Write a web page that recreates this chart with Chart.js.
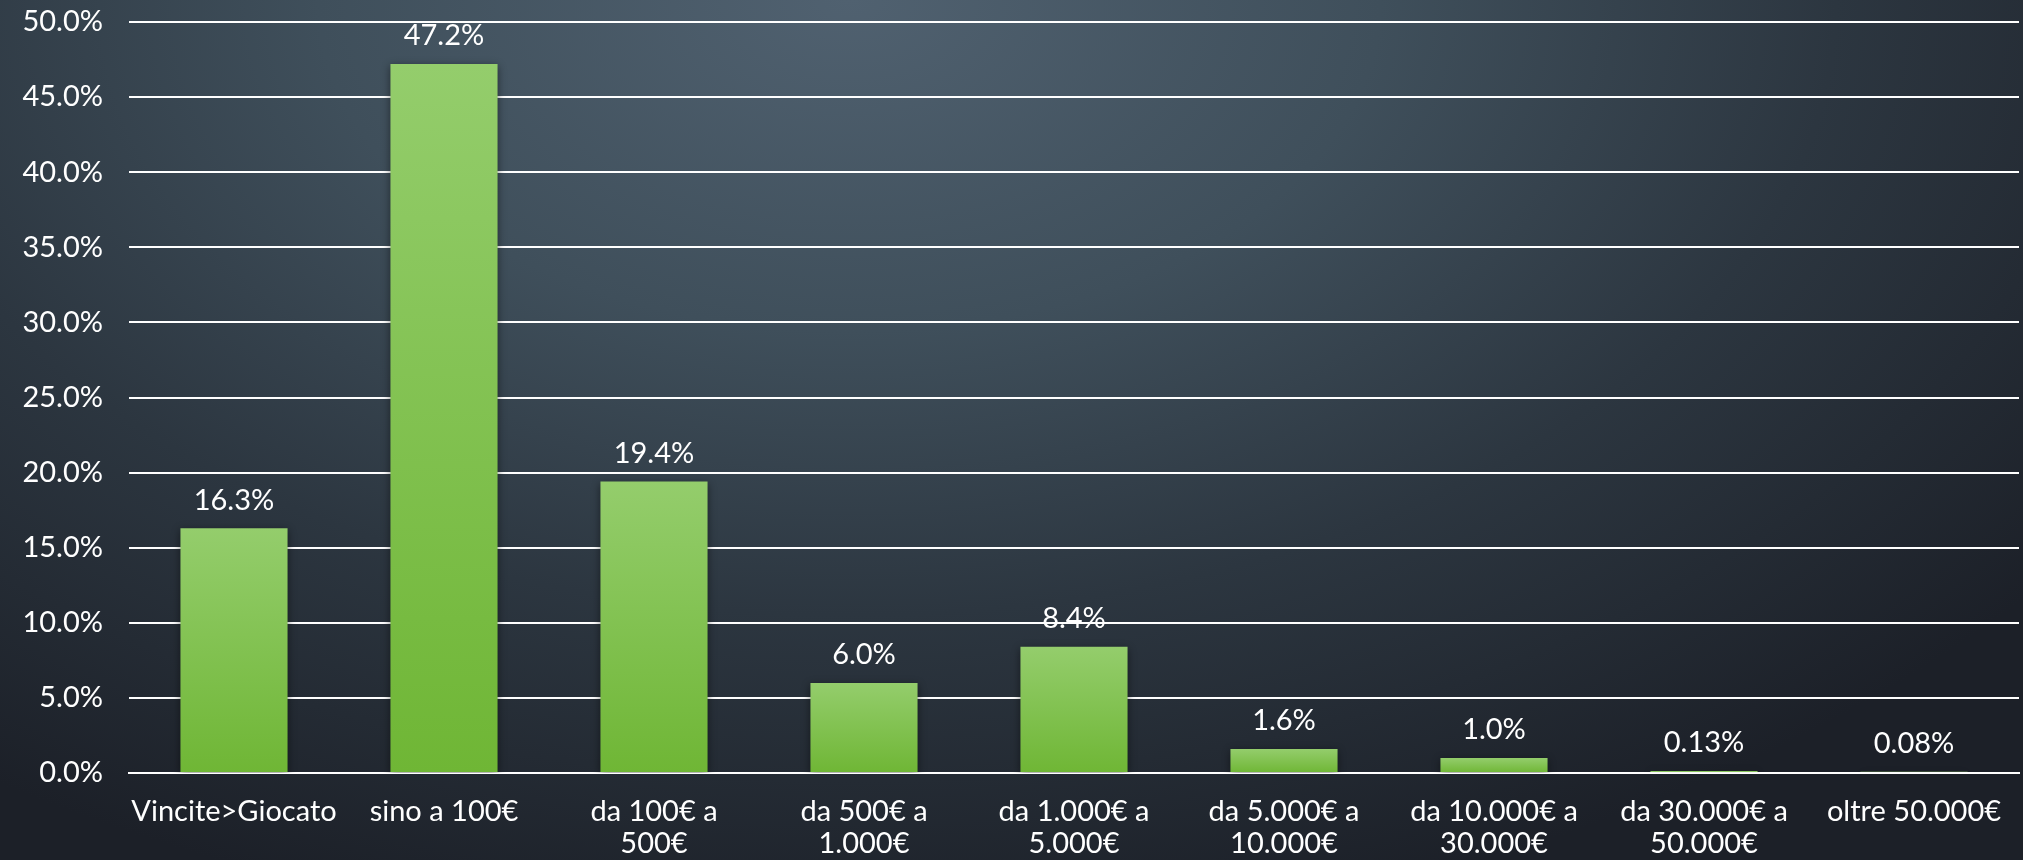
<!DOCTYPE html>
<html>
<head>
<meta charset="utf-8">
<script src="https://cdn.jsdelivr.net/npm/chart.js@4.4.0/dist/chart.umd.min.js"></script>
<style>
  html, body { margin: 0; padding: 0; width: 2023px; height: 860px; overflow: hidden; }
  body {
    background: radial-gradient(ellipse 75% 110% at 42% 0%, #506170 0%, #3f4f5b 35%, #2c3640 65%, #1c2028 100%);
  }
  #wrap { position: absolute; left: 0; top: 0; width: 2023px; height: 860px; }
</style>
</head>
<body>
<div id="wrap"><canvas id="c" width="2023" height="860"></canvas></div>
<script>
const categories = [
  ["Vincite>Giocato"],
  ["sino a 100€"],
  ["da 100€ a", "500€"],
  ["da 500€ a", "1.000€"],
  ["da 1.000€ a", "5.000€"],
  ["da 5.000€ a", "10.000€"],
  ["da 10.000€ a", "30.000€"],
  ["da 30.000€ a", "50.000€"],
  ["oltre 50.000€"]
];
const values = [16.3, 47.2, 19.4, 6.0, 8.4, 1.6, 1.0, 0.13, 0.08];
const valueLabels = ["16.3%", "47.2%", "19.4%", "6.0%", "8.4%", "1.6%", "1.0%", "0.13%", "0.08%"];
const yTickLabels = ["0.0%", "5.0%", "10.0%", "15.0%", "20.0%", "25.0%", "30.0%", "35.0%", "40.0%", "45.0%", "50.0%"];

const FONT = "Lato";
const FSIZE = 29;

const barGradient = (ctx) => {
  const chart = ctx.chart;
  if (!chart.chartArea || !chart.scales.y || ctx.dataIndex === undefined) return '#80c050';
  const y = chart.scales.y;
  const top = y.getPixelForValue(values[ctx.dataIndex]);
  const bottom = y.getPixelForValue(0);
  const g = chart.ctx.createLinearGradient(0, top, 0, Math.max(bottom, top + 1));
  g.addColorStop(0, '#94cd6c');
  g.addColorStop(1, '#6fb635');
  return g;
};

const shadowPlugin = {
  id: 'barShadow',
  beforeDatasetDraw(chart) {
    const c = chart.ctx;
    c.save();
    c.shadowColor = 'rgba(0,0,0,0.45)';
    c.shadowBlur = 8;
    c.shadowOffsetX = 0;
    c.shadowOffsetY = 2;
  },
  afterDatasetDraw(chart) {
    chart.ctx.restore();
  }
};

const labelPlugin = {
  id: 'valueLabels',
  afterDatasetsDraw(chart) {
    const c = chart.ctx;
    const meta = chart.getDatasetMeta(0);
    c.save();
    c.fillStyle = '#ffffff';
    c.font = FSIZE + 'px ' + FONT;
    c.textAlign = 'center';
    c.textBaseline = 'middle';
    meta.data.forEach((bar, i) => {
      c.fillText(valueLabels[i], bar.x, bar.y - 28);
    });
    c.restore();
  }
};

new Chart(document.getElementById('c'), {
  type: 'bar',
  data: {
    labels: categories,
    datasets: [{
      data: values,
      backgroundColor: barGradient,
      borderWidth: 0,
      categoryPercentage: 1.0,
      barPercentage: 0.51
    }]
  },
  options: {
    responsive: false,
    animation: false,
    devicePixelRatio: 1,
    layout: { padding: { top: 22, right: 4, left: 0, bottom: 0 } },
    plugins: { legend: { display: false }, tooltip: { enabled: false } },
    scales: {
      x: {
        grid: { display: false, drawTicks: false },
        border: { display: true, color: '#ffffff', width: 2 },
        ticks: {
          color: '#ffffff',
          font: { family: FONT, size: FSIZE, lineHeight: 1.1 },
          padding: 23,
          maxRotation: 0,
          autoSkip: false
        },
        afterFit(scale) { scale.height = 87; scale.paddingLeft = 0; scale.paddingRight = 0; }
      },
      y: {
        min: 0,
        max: 50,
        grid: { color: '#ffffff', lineWidth: 2, drawTicks: false },
        border: { display: false },
        ticks: {
          stepSize: 5,
          color: '#ffffff',
          padding: 26,
          font: { family: FONT, size: FSIZE },
          callback: (v) => yTickLabels[Math.round(v / 5)]
        },
        afterFit(scale) { scale.width = 129; scale.paddingTop = 0; scale.paddingBottom = 0; }
      }
    }
  },
  plugins: [shadowPlugin, labelPlugin]
});
</script>
</body>
</html>
